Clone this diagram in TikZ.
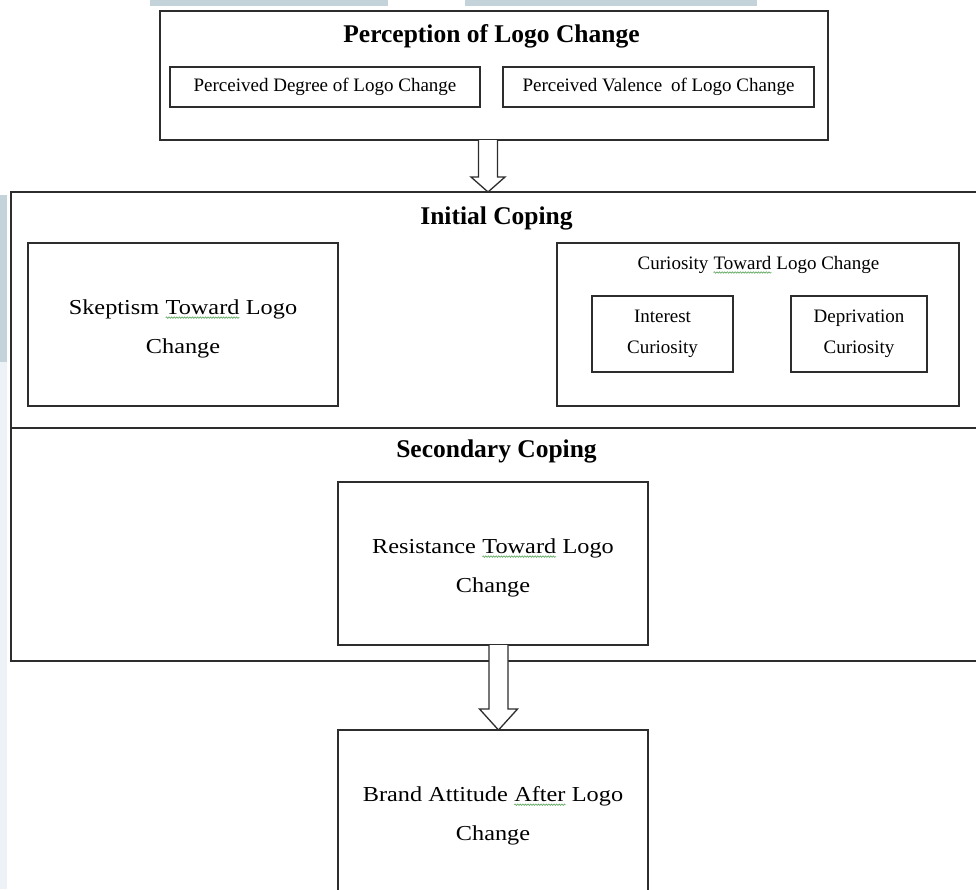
\documentclass[tikz,border=0pt]{standalone}
\usepackage{fontspec}
\setmainfont{Liberation Serif}
\newfontfamily\wideserif[FakeStretch=1.14]{Liberation Serif}
\usetikzlibrary{calc,decorations.pathmorphing}
\definecolor{lineclr}{RGB}{45,45,45}
\definecolor{stripclr}{RGB}{196,211,218}
\definecolor{stripfaint}{RGB}{236,242,245}
\definecolor{squigclr}{RGB}{100,170,100}
\newcommand\squig[1]{\tikz[baseline=(w.base)]{\node[rectangle,draw=none,fill=none,inner sep=0pt,outer sep=0pt,minimum width=0pt,minimum height=0pt,anchor=base](w)at(0,0){#1};\draw[squigclr,line width=0.7pt,decorate,decoration={snake,amplitude=0.7pt,segment length=2.6pt}]([yshift=-3.5pt]w.base west)--([yshift=-3.5pt]w.base east);}}
\begin{document}
\begin{tikzpicture}[x=1pt,y=-1pt,
  box/.style={rectangle,draw=lineclr,line width=1.3pt,inner sep=0pt,outer sep=0pt},
  titletext/.style={font=\fontsize{25.5}{30}\selectfont\bfseries,inner sep=0pt,anchor=base},
  smalltext/.style={font=\fontsize{19}{31}\selectfont,align=center},
  bigtext/.style={font=\wideserif\fontsize{21.3}{39}\selectfont,align=center,inner sep=0pt},
  hollow/.style={draw=lineclr,line width=1.3pt,fill=white,line join=miter}]
\useasboundingbox (0,0) rectangle (976,889);
\fill[white] (0,0) rectangle (976,889);
% screenshot strips
\fill[stripclr] (150,0) rectangle (388,6);
\fill[stripclr] (465,0) rectangle (757,6);
\fill[stripclr] (0,195) rectangle (7,362);
\fill[stripfaint] (0,362) rectangle (7,889);

% perception
\node[box,minimum width=668pt,minimum height=129pt] (perc) at (494,75.5) {};
\node[titletext] (perct) at (491.5,42.7) {Perception of Logo Change};
\node[box,smalltext,minimum width=310pt,minimum height=40pt] (pdeg) at (325,87) {Perceived Degree of Logo Change};
\node[box,smalltext,minimum width=311pt,minimum height=40pt] (pval) at (658.5,87) {Perceived Valence\hspace{4pt} of Logo Change};

% initial coping
\node[box,minimum width=979pt,minimum height=236pt] (init) at (500.5,310) {};
\node[titletext] (initt) at (496.5,224) {Initial Coping};
\node[box,minimum width=310pt,minimum height=163pt] (skep) at (183,324.5) {};
\node[bigtext] (skept) at ([yshift=-4pt]skep.center) {Skeptism \squig{Toward} Logo\\Change};
\node[box,minimum width=402pt,minimum height=163pt] (cur) at (758,324.5) {};
\node[smalltext,inner sep=0pt,anchor=base] (curt) at (758.5,269) {Curiosity \squig{Toward} Logo Change};
\node[box,smalltext,minimum width=141pt,minimum height=76pt] (int) at (662.5,334) {Interest\\Curiosity};
\node[box,smalltext,minimum width=136pt,minimum height=76pt] (dep) at (859,334) {Deprivation\\Curiosity};

% secondary coping
\node[box,minimum width=979pt,minimum height=233pt] (sec) at (500.5,544.5) {};
\node[titletext] (sect) at (496.5,457) {Secondary Coping};
\node[box,minimum width=310pt,minimum height=163pt] (res) at (493,563.5) {};
\node[bigtext] (rest) at ([yshift=-4pt]res.center) {Resistance \squig{Toward} Logo\\Change};

% outcome
\node[box,minimum width=310pt,minimum height=163pt] (brand) at (493,811.5) {};
\node[bigtext] (brandt) at ([yshift=-4pt]brand.center) {Brand Attitude \squig{After} Logo\\Change};

% hollow arrows
\coordinate (a1s) at ([xshift=-6pt]perc.south);
\coordinate (a1e) at (a1s |- init.north);
\filldraw[hollow] ($(a1s)+(-9.5,0)$) -- ($(a1e)+(-9.5,-15)$) -- ($(a1e)+(-17,-15)$) -- (a1e)
  -- ($(a1e)+(17,-15)$) -- ($(a1e)+(9.5,-15)$) -- ($(a1s)+(9.5,0)$);
\coordinate (a2s) at ([xshift=5.5pt]res.south);
\coordinate (a2e) at (a2s |- brand.north);
\filldraw[hollow] ($(a2s)+(-9.5,0)$) -- ($(a2e)+(-9.5,-21)$) -- ($(a2e)+(-19,-21)$) -- (a2e)
  -- ($(a2e)+(19,-21)$) -- ($(a2e)+(9.5,-21)$) -- ($(a2s)+(9.5,0)$);
\end{tikzpicture}
\end{document}
